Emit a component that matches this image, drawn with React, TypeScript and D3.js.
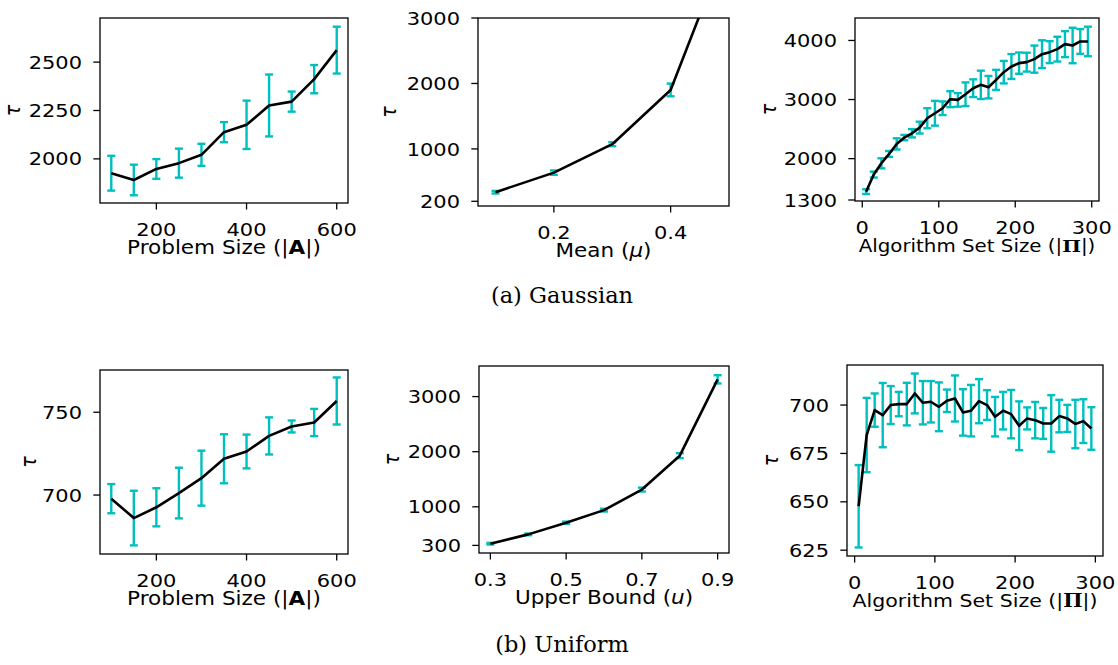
import React from 'react';
import * as d3 from 'd3';

// (a) Gaussian — problem size
const gSizeX = [100, 150, 200, 250, 300, 350, 400, 450, 500, 550, 600];
const gSizeMean = [1926, 1891, 1948, 1978, 2021, 2138, 2176, 2276, 2296, 2412, 2562];
const gSizeErr = [90, 79, 51, 75, 57, 52, 125, 160, 52, 73, 121];

// (a) Gaussian — mean
const gMeanX = [0.1, 0.2, 0.3, 0.4, 0.5];
const gMeanVal = [339, 638, 1072, 1901, 4190];
const gMeanErr = [20, 33, 30, 97, 120];

// (a) Gaussian — algorithm set size
const algX = [5, 15, 25, 35, 45, 55, 65, 75, 85, 95, 105, 115, 125, 135, 145, 155, 165, 175, 185, 195, 205, 215, 225, 235, 245, 255, 265, 275, 285, 295];
const gAlgMean = [1441, 1730, 1921, 2079, 2249, 2356, 2429, 2525, 2684, 2768, 2853, 3006, 2994, 3090, 3192, 3249, 3209, 3333, 3463, 3559, 3616, 3633, 3684, 3768, 3802, 3853, 3938, 3915, 3983, 3983];
const gAlgErr = [40, 50, 85, 50, 95, 45, 70, 100, 170, 210, 115, 135, 115, 200, 150, 240, 190, 170, 190, 210, 180, 160, 230, 235, 185, 210, 220, 300, 210, 250];

// (b) Uniform — problem size
const uSizeMean = [697.8, 686.1, 692.6, 701.2, 710.2, 721.9, 726.3, 735.7, 741.4, 743.8, 756.8];
const uSizeErr = [8.8, 16.5, 11.5, 15.3, 16.6, 14.8, 10.2, 11.2, 3.6, 8.2, 14.2];

// (b) Uniform — upper bound
const uBoundX = [0.3, 0.4, 0.5, 0.6, 0.7, 0.8, 0.9];
const uBoundVal = [331, 500, 711, 940, 1313, 1928, 3313];
const uBoundErr = [15, 15, 20, 25, 35, 45, 75];

// (b) Uniform — algorithm set size
const uAlgMean = [647.7, 684.5, 697.4, 694.8, 700, 700.5, 700.5, 706, 701.2, 701.7, 699.1, 702.2, 703.4, 696.2, 697.1, 702, 700, 694, 697.1, 695.3, 689.3, 693.1, 692.2, 690.5, 690.5, 694.3, 693.1, 690.2, 691.7, 687.9];
const uAlgErr = [21.3, 19.2, 8.6, 16.6, 9.8, 6.3, 11, 10.3, 11.2, 10.7, 12.6, 5.8, 11.9, 12, 13.3, 11.4, 7.7, 10.2, 9.7, 12.5, 12.6, 5.7, 9.4, 8, 14.6, 8.4, 7, 12.5, 11.3, 11];

const sizeTicks = [200, 400, 600];
const algTicks = [0, 100, 200, 300];

const CYAN = '#00bfbf';
const SANS = 'DejaVu Sans, sans-serif';
// the figure was stretched sideways when it was placed, so its text is too
const SX = 1.146;

type PanelProps = {
  id: string;
  frame: [number, number, number, number];
  xDomain: [number, number];
  yDomain: [number, number];
  xTicks: number[];
  yTicks: number[];
  xFmt?: (v: number) => string;
  x: number[];
  y: number[];
  err: number[];
  tauDx: number;
  labelSize?: number;
  label: React.ReactNode;
};

const Panel = ({ id, frame, xDomain, yDomain, xTicks, yTicks, xFmt, x, y, err, tauDx, labelSize, label }: PanelProps) => {
  const [l, t, r, b] = frame;
  const xs = d3.scaleLinear().domain(xDomain).range([l, r]);
  const ys = d3.scaleLinear().domain(yDomain).range([b, t]);
  const line = d3.line<number>().x((_, i) => xs(x[i])).y(d => ys(d));
  const fmt = xFmt || ((v: number) => String(v));
  const at = (px: number, py: number) => `translate(${px},${py}) scale(${SX},1)`;
  return (
    <g>
      <clipPath id={id}>
        <rect x={l} y={t} width={r - l} height={b - t} />
      </clipPath>
      <g clipPath={`url(#${id})`}>
        {x.map((xv, i) => {
          const px = xs(xv);
          const lo = ys(y[i] - err[i]);
          const hi = ys(y[i] + err[i]);
          return (
            <g key={i} stroke={CYAN} strokeWidth={2.4}>
              <line x1={px} x2={px} y1={lo} y2={hi} />
              <line x1={px - 4} x2={px + 4} y1={lo} y2={lo} />
              <line x1={px - 4} x2={px + 4} y1={hi} y2={hi} />
            </g>
          );
        })}
        <path d={line(y) || ''} fill="none" stroke="#000" strokeWidth={2.6} strokeLinejoin="round" />
      </g>
      <rect x={l} y={t} width={r - l} height={b - t} fill="none" stroke="#000" strokeWidth={1.3} />
      {xTicks.map(v => (
        <g key={'x' + v}>
          <line x1={xs(v)} x2={xs(v)} y1={b} y2={b + 6.5} stroke="#000" strokeWidth={1.3} />
          <text transform={at(xs(v), b + 32.5)} textAnchor="middle" fontSize={18.3} fontFamily={SANS}>{fmt(v)}</text>
        </g>
      ))}
      {yTicks.map(v => (
        <g key={'y' + v}>
          <line x1={l - 6.7} x2={l} y1={ys(v)} y2={ys(v)} stroke="#000" strokeWidth={1.3} />
          <text transform={at(l - 18, ys(v))} dy="0.36em" textAnchor="end" fontSize={18.3} fontFamily={SANS}>{v}</text>
        </g>
      ))}
      <text transform={at((l + r) / 2, b + 50.5)} textAnchor="middle" fontSize={labelSize || 18.8} fontFamily={SANS}>{label}</text>
      <text transform={`translate(${l - tauDx},${(t + b) / 2}) scale(${SX},1) rotate(-90)`} textAnchor="middle" dy="0.3em"
        fontSize={19} fontStyle="italic" fontFamily={SANS}>τ</text>
    </g>
  );
};

const sizeLabel = (
  <>Problem Size (|<tspan fontWeight="bold">A</tspan>|)</>
);
const algLabel = (
  <>Algorithm Set Size (|<tspan fontWeight="bold" fontFamily="DejaVu Serif, serif">Π</tspan>|)</>
);

export default function App() {
  return (
    <svg width={1118} height={665} style={{ position: 'absolute', left: 0, top: 0, background: '#fff' }}>
      <rect width={1118} height={665} fill="#fff" />
      <Panel id="c1" frame={[100, 18, 348, 203]} xDomain={[75, 625]} yDomain={[1772, 2728]}
        xTicks={sizeTicks} yTicks={[2000, 2250, 2500]} x={gSizeX} y={gSizeMean} err={gSizeErr}
        tauDx={87} label={sizeLabel} />
      <Panel id="c2" frame={[478, 18, 729, 206]} xDomain={[0.07, 0.5]} yDomain={[128, 3000]}
        xTicks={[0.2, 0.4]} yTicks={[200, 1000, 2000, 3000]} xFmt={d3.format('.1f')}
        x={gMeanX} y={gMeanVal} err={gMeanErr} tauDx={89}
        label={<>Mean (<tspan fontStyle="italic">μ</tspan>)</>} />
      <Panel id="c3" frame={[855, 18, 1099, 201]} xDomain={[-9.5, 309.5]} yDomain={[1283, 4380]}
        xTicks={algTicks} yTicks={[1300, 2000, 3000, 4000]} x={algX} y={gAlgMean} err={gAlgErr}
        tauDx={86} labelSize={17.3} label={algLabel} />
      <Panel id="c4" frame={[100, 370, 348, 554]} xDomain={[75, 625]} yDomain={[664.4, 775.5]}
        xTicks={sizeTicks} yTicks={[700, 750]} x={gSizeX} y={uSizeMean} err={uSizeErr}
        tauDx={71} label={sizeLabel} />
      <Panel id="c5" frame={[479, 366, 729, 553]} xDomain={[0.27, 0.93]} yDomain={[162, 3555]}
        xTicks={[0.3, 0.5, 0.7, 0.9]} yTicks={[300, 1000, 2000, 3000]} xFmt={d3.format('.1f')}
        x={uBoundX} y={uBoundVal} err={uBoundErr} tauDx={87}
        label={<>Upper Bound (<tspan fontStyle="italic">u</tspan>)</>} />
      <Panel id="c6" frame={[847, 365, 1103, 556]} xDomain={[-9.5, 309.5]} yDomain={[622, 720.7]}
        xTicks={algTicks} yTicks={[625, 650, 675, 700]} x={algX} y={uAlgMean} err={uAlgErr}
        tauDx={76} labelSize={17.9} label={algLabel} />
      <text x={562} y={303} textAnchor="middle" fontSize={22.5} fontFamily="DejaVu Serif, serif">(a) Gaussian</text>
      <text x={562} y={652} textAnchor="middle" fontSize={22.5} fontFamily="DejaVu Serif, serif">(b) Uniform</text>
    </svg>
  );
}
